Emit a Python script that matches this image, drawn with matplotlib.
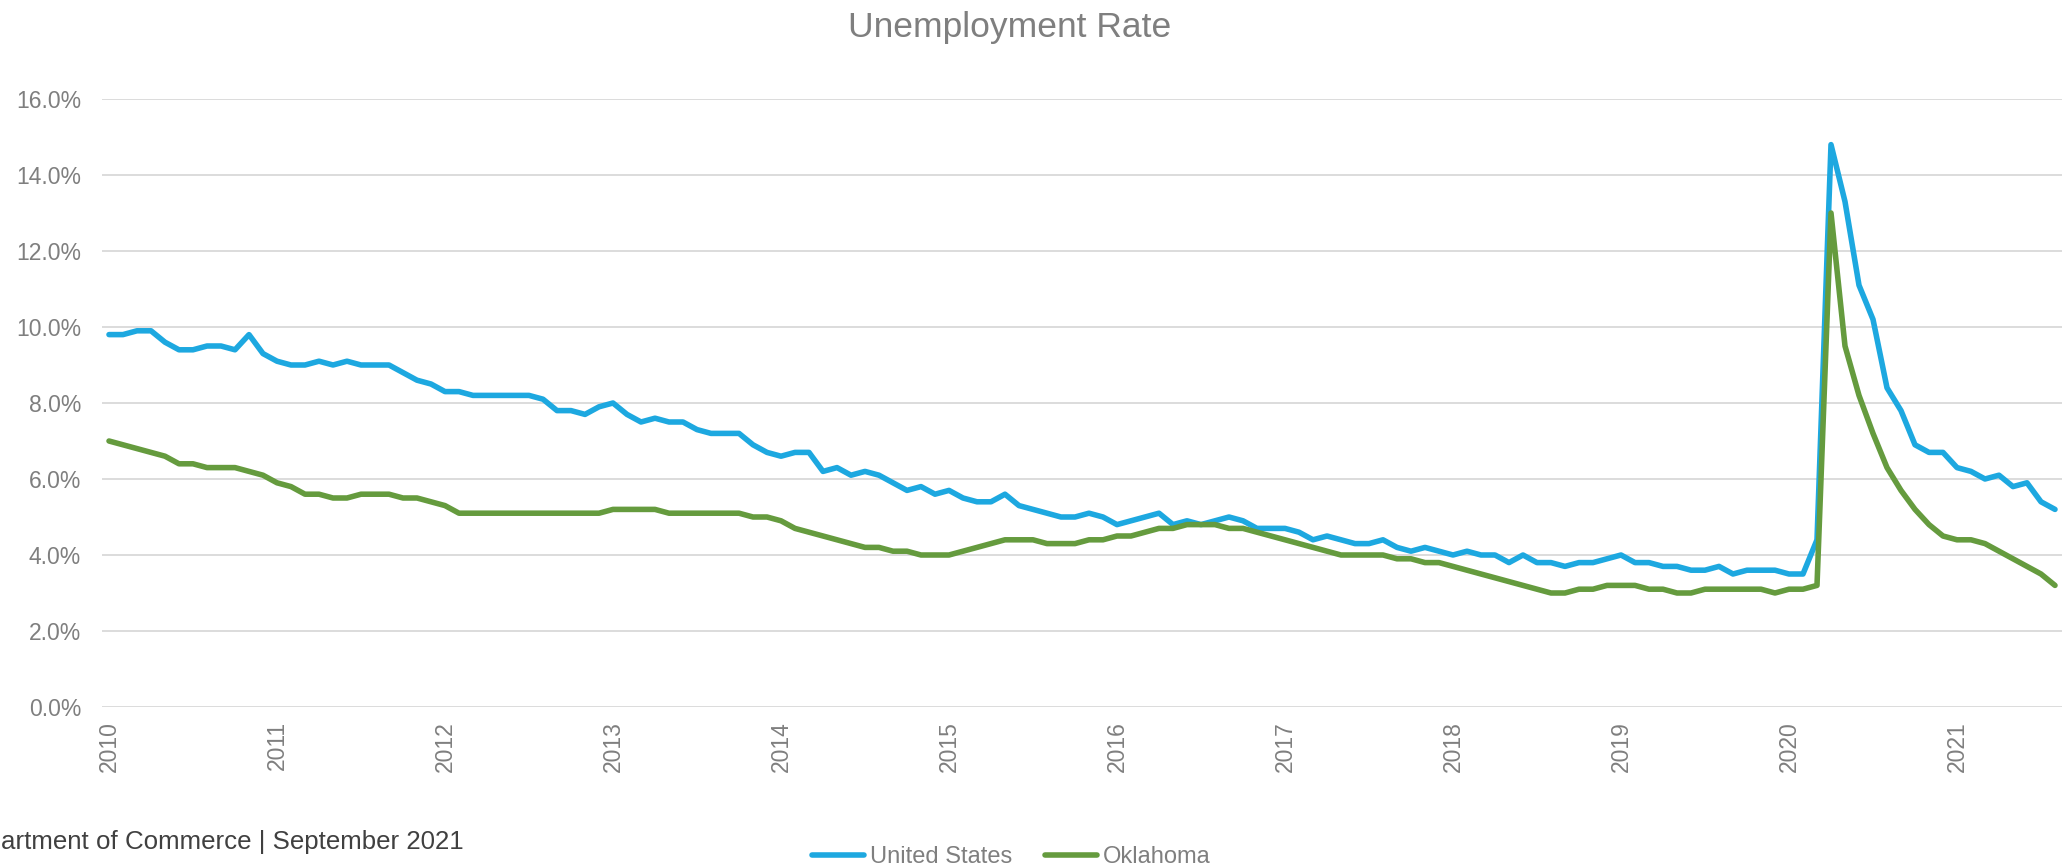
import numpy as np
import matplotlib
matplotlib.use("Agg")
import matplotlib.pyplot as plt

# monthly rates, Jan 2010 .. Aug 2021 (percent)
us_rate = [
    9.8, 9.8, 9.9, 9.9, 9.6, 9.4, 9.4, 9.5, 9.5, 9.4, 9.8, 9.3,   # 2010
    9.1, 9.0, 9.0, 9.1, 9.0, 9.1, 9.0, 9.0, 9.0, 8.8, 8.6, 8.5,   # 2011
    8.3, 8.3, 8.2, 8.2, 8.2, 8.2, 8.2, 8.1, 7.8, 7.8, 7.7, 7.9,   # 2012
    8.0, 7.7, 7.5, 7.6, 7.5, 7.5, 7.3, 7.2, 7.2, 7.2, 6.9, 6.7,   # 2013
    6.6, 6.7, 6.7, 6.2, 6.3, 6.1, 6.2, 6.1, 5.9, 5.7, 5.8, 5.6,   # 2014
    5.7, 5.5, 5.4, 5.4, 5.6, 5.3, 5.2, 5.1, 5.0, 5.0, 5.1, 5.0,   # 2015
    4.8, 4.9, 5.0, 5.1, 4.8, 4.9, 4.8, 4.9, 5.0, 4.9, 4.7, 4.7,   # 2016
    4.7, 4.6, 4.4, 4.5, 4.4, 4.3, 4.3, 4.4, 4.2, 4.1, 4.2, 4.1,   # 2017
    4.0, 4.1, 4.0, 4.0, 3.8, 4.0, 3.8, 3.8, 3.7, 3.8, 3.8, 3.9,   # 2018
    4.0, 3.8, 3.8, 3.7, 3.7, 3.6, 3.6, 3.7, 3.5, 3.6, 3.6, 3.6,   # 2019
    3.5, 3.5, 4.4, 14.8, 13.3, 11.1, 10.2, 8.4, 7.8, 6.9, 6.7, 6.7,  # 2020
    6.3, 6.2, 6.0, 6.1, 5.8, 5.9, 5.4, 5.2,                       # 2021
]

ok_rate = [
    7.0, 6.9, 6.8, 6.7, 6.6, 6.4, 6.4, 6.3, 6.3, 6.3, 6.2, 6.1,
    5.9, 5.8, 5.6, 5.6, 5.5, 5.5, 5.6, 5.6, 5.6, 5.5, 5.5, 5.4,
    5.3, 5.1, 5.1, 5.1, 5.1, 5.1, 5.1, 5.1, 5.1, 5.1, 5.1, 5.1,
    5.2, 5.2, 5.2, 5.2, 5.1, 5.1, 5.1, 5.1, 5.1, 5.1, 5.0, 5.0,
    4.9, 4.7, 4.6, 4.5, 4.4, 4.3, 4.2, 4.2, 4.1, 4.1, 4.0, 4.0,
    4.0, 4.1, 4.2, 4.3, 4.4, 4.4, 4.4, 4.3, 4.3, 4.3, 4.4, 4.4,
    4.5, 4.5, 4.6, 4.7, 4.7, 4.8, 4.8, 4.8, 4.7, 4.7, 4.6, 4.5,
    4.4, 4.3, 4.2, 4.1, 4.0, 4.0, 4.0, 4.0, 3.9, 3.9, 3.8, 3.8,
    3.7, 3.6, 3.5, 3.4, 3.3, 3.2, 3.1, 3.0, 3.0, 3.1, 3.1, 3.2,
    3.2, 3.2, 3.1, 3.1, 3.0, 3.0, 3.1, 3.1, 3.1, 3.1, 3.1, 3.0,
    3.1, 3.1, 3.2, 13.0, 9.5, 8.2, 7.2, 6.3, 5.7, 5.2, 4.8, 4.5,
    4.4, 4.4, 4.3, 4.1, 3.9, 3.7, 3.5, 3.2,
]

years = [str(y) for y in range(2010, 2022)]
y_ticks = [0, 2, 4, 6, 8, 10, 12, 14, 16]

blue = '#1DA8E0'
green = '#659B3E'
gray = '#7F7F7F'

plt.rcParams['font.family'] = ['Liberation Sans', 'DejaVu Sans']

W, H = 2068, 867
fig = plt.figure(figsize=(W / 100, H / 100), dpi=100)
ax = fig.add_axes([102 / W, 1 - 707 / H, 1960 / W, 608 / H])

x = np.arange(len(us_rate))
ax.plot(x, us_rate, color=blue, lw=4.0, solid_capstyle='round',
        solid_joinstyle='round', label='United States', zorder=3)
ax.plot(x, ok_rate, color=green, lw=4.0, solid_capstyle='round',
        solid_joinstyle='round', label='Oklahoma', zorder=4)

ax.set_xlim(-0.5, len(us_rate) - 0.5)
ax.set_ylim(0, 16)

ax.set_yticks(y_ticks)
ax.set_yticklabels(['%.1f%%' % v for v in y_ticks])
ax.set_xticks(np.arange(len(years)) * 12)
ax.set_xticklabels(years, rotation=90, va='top', ha='center')

ax.grid(axis='y', color='#D9D9D9', lw=1.3, zorder=0)
ax.set_axisbelow(True)
for s in ax.spines.values():
    s.set_visible(False)
ax.tick_params(axis='both', length=0, colors=gray, labelsize=16.5)
ax.tick_params(axis='y', pad=15)
ax.tick_params(axis='x', pad=10)

fig.text(0.488, 1 - 36.7 / H, 'Unemployment Rate', ha='center',
         va='baseline', fontsize=25.5, color=gray)

# source line is cropped on the left in the original
fig.text(1 / W, 1 - 849 / H, 'artment of Commerce | September 2021',
         ha='left', va='baseline', fontsize=18.6, color='#404040')

fig.legend(loc='center left', bbox_to_anchor=(812 / W, 1 - 857 / H),
           ncol=2, frameon=False, fontsize=17, labelcolor=gray,
           handlelength=2.2, handletextpad=0.25, columnspacing=1.4,
           borderpad=0, borderaxespad=0)

fig.savefig('out.png', dpi=100)
